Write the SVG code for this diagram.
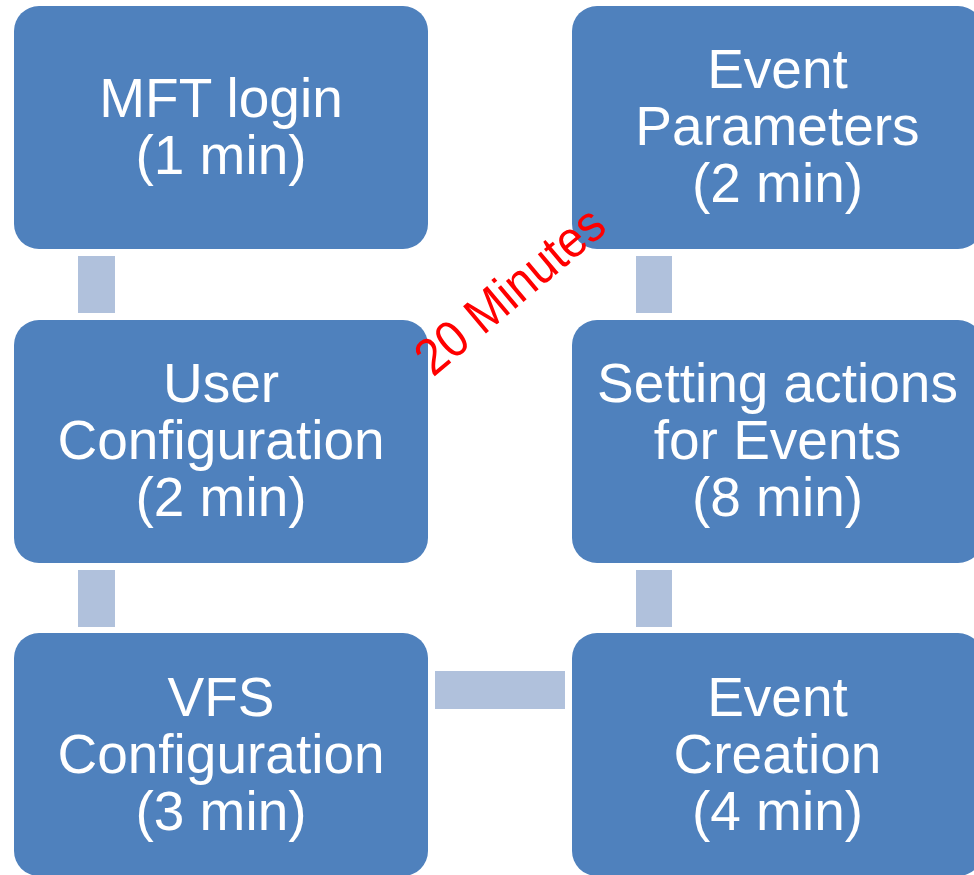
<svg xmlns="http://www.w3.org/2000/svg" width="974" height="875" viewBox="0 0 974 875">
<style>
.box{fill:#4F81BD;}
.conn{fill:#B0C1DC;}
.lbl{font-family:"Liberation Sans",Arial,sans-serif;font-size:55px;fill:#FFFFFF;text-anchor:middle;}
.note{font-family:"Liberation Sans",Arial,sans-serif;font-size:47px;fill:#FF0000;text-anchor:middle;}
</style>
<rect width="974" height="875" fill="#FFFFFF"/>
<g id="connectors">
<rect class="conn" x="78" y="256" width="37" height="57"/>
<rect class="conn" x="78" y="570" width="37" height="57"/>
<rect class="conn" x="435" y="671" width="130" height="38"/>
<rect class="conn" x="636" y="570" width="36" height="57"/>
<rect class="conn" x="636" y="256" width="36" height="57"/>
</g>
<g id="mft-login">
<rect class="box" x="14" y="6" width="414" height="243" rx="25" ry="25"/>
<text class="lbl" x="221" y="117">MFT login</text>
<text class="lbl" x="221" y="174">(1 min)</text>
</g>
<g id="user-configuration">
<rect class="box" x="14" y="320" width="414" height="243" rx="25" ry="25"/>
<text class="lbl" x="221" y="402">User</text>
<text class="lbl" x="221" y="459">Configuration</text>
<text class="lbl" x="221" y="516">(2 min)</text>
</g>
<g id="vfs-configuration">
<rect class="box" x="14" y="633" width="414" height="243" rx="25" ry="25"/>
<text class="lbl" x="221" y="716">VFS</text>
<text class="lbl" x="221" y="773">Configuration</text>
<text class="lbl" x="221" y="830">(3 min)</text>
</g>
<g id="event-creation">
<rect class="box" x="572" y="633" width="411" height="243" rx="25" ry="25"/>
<text class="lbl" x="777.5" y="716">Event</text>
<text class="lbl" x="777.5" y="773">Creation</text>
<text class="lbl" x="777.5" y="830">(4 min)</text>
</g>
<g id="setting-actions">
<rect class="box" x="572" y="320" width="411" height="243" rx="25" ry="25"/>
<text class="lbl" x="777.5" y="402">Setting actions</text>
<text class="lbl" x="777.5" y="459">for Events</text>
<text class="lbl" x="777.5" y="516">(8 min)</text>
</g>
<g id="event-parameters">
<rect class="box" x="572" y="6" width="411" height="243" rx="25" ry="25"/>
<text class="lbl" x="777.5" y="88">Event</text>
<text class="lbl" x="777.5" y="145">Parameters</text>
<text class="lbl" x="777.5" y="202">(2 min)</text>
</g>
<g id="total-time">
<text class="note" transform="translate(521,304) rotate(-40) scale(1,1.1)" x="0" y="0">20 Minutes</text>
</g>
</svg>
